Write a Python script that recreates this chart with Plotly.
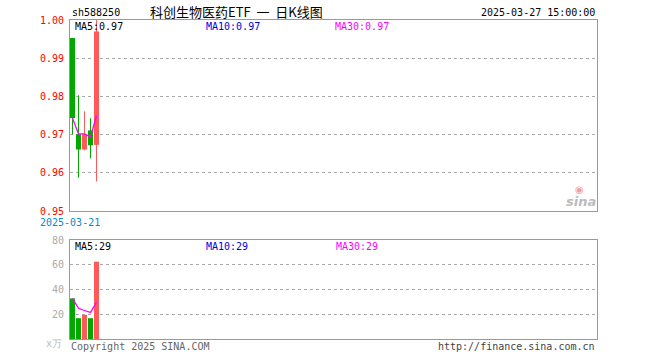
import plotly.graph_objects as go
import pandas as pd

# ---- data ----
dates = ["2025-03-21", "2025-03-24", "2025-03-25", "2025-03-26", "2025-03-27"]
open_ = [0.9953, 0.9701, 0.9661, 0.9711, 0.9673]
high = [0.9953, 0.9803, 0.9761, 0.9743, 1.0000]
low = [0.9701, 0.9588, 0.9659, 0.9638, 0.9577]
close = [0.9743, 0.9661, 0.9701, 0.9672, 0.9970]
volume = [32.8, 16.8, 19.5, 16.8, 62.5]  # 万

price_ticks = [0.95, 0.96, 0.97, 0.98, 0.99, 1.00]
vol_ticks = [20, 40, 60, 80]

W, H = 660, 360
X0, X1 = 70, 597
UNIT = 6.0

RED = "#ff5a5a"
GREEN = "#00a800"
MAG = "#ff00ff"
MONO = "DejaVu Sans Mono"

x = list(range(len(dates)))
colors = [RED if c >= o else GREEN for o, c in zip(open_, close)]
body_base = [min(o, c) for o, c in zip(open_, close)]
body_h = [abs(c - o) for o, c in zip(open_, close)]
wick_h = [h - l for h, l in zip(high, low)]
ma_price = pd.Series(close).expanding().mean()
ma_vol = pd.Series(volume).expanding().mean()

fig = go.Figure()
# wicks
fig.add_trace(go.Bar(x=x, y=wick_h, base=low, width=1 / UNIT, marker_color=colors,
                     marker_line_width=0, xaxis="x", yaxis="y", showlegend=False))
# bodies
fig.add_trace(go.Bar(x=x, y=body_h, base=body_base, width=5 / UNIT, marker_color=colors,
                     marker_line_width=0, xaxis="x", yaxis="y", showlegend=False))
fig.add_trace(go.Scatter(x=x, y=ma_price, mode="lines", line=dict(color=MAG, width=1.3),
                         xaxis="x", yaxis="y", showlegend=False))
# volume
fig.add_trace(go.Bar(x=x, y=volume, width=5 / UNIT, marker_color=colors,
                     marker_line_width=0, xaxis="x2", yaxis="y2", showlegend=False))
fig.add_trace(go.Scatter(x=x, y=ma_vol, mode="lines", line=dict(color=MAG, width=1.3),
                         xaxis="x2", yaxis="y2", showlegend=False))

xr = [-2.5 / UNIT, (X1 - X0 - 2.5) / UNIT]
xd = [X0 / W, X1 / W]


def py(px):
    return (H - px) / H


axis_common = dict(showline=True, linecolor="#999999", linewidth=1, mirror=True,
                   zeroline=False, automargin=False)
fig.update_layout(
    width=W, height=H, margin=dict(l=0, r=0, t=0, b=0, autoexpand=False),
    paper_bgcolor="white", plot_bgcolor="white", barmode="overlay",
    xaxis=dict(domain=xd, range=xr, showticklabels=False, showgrid=False,
               anchor="y", **axis_common),
    yaxis=dict(domain=[py(211), py(20)], range=[0.95, 1.00], tickvals=price_ticks,
               tickformat=".2f", ticks="", ticklabelstandoff=3,
               tickfont=dict(family=MONO, size=10, color="#ff0000"),
               showgrid=True, gridcolor="#aaaaaa", griddash="dot", gridwidth=1,
               anchor="x", **axis_common),
    xaxis2=dict(domain=xd, range=xr, showticklabels=False, showgrid=False,
                anchor="y2", **axis_common),
    yaxis2=dict(domain=[py(339), py(240)], range=[0, 80], tickvals=vol_ticks,
                ticks="", ticklabelstandoff=3,
                tickfont=dict(family=MONO, size=10, color="#aaaaaa"),
                showgrid=True, gridcolor="#aaaaaa", griddash="dot", gridwidth=1,
                anchor="x2", **axis_common),
)


def ann(text, xpx, ypx, color="#000000", size=10, family=MONO, xanchor="left", **kw):
    fig.add_annotation(text=text, x=xpx / W, y=py(ypx), xref="paper", yref="paper",
                       xanchor=xanchor, yanchor="middle", showarrow=False,
                       font=dict(family=family, size=size, color=color), **kw)


ma_p = f"{ma_price.iloc[-1]:.2f}"
ma_v = f"{int(ma_vol.iloc[-1])}"
ann("sh588250", 70, 13)
ann("科创生物医药ETF&nbsp;&nbsp;一&nbsp;&nbsp;日K线图", 236, 12, size=13,
    family="Noto Sans CJK SC", xanchor="center")
ann("2025-03-27 15:00:00", 597, 13, xanchor="right")
ann(f"MA5:{ma_p}", 73, 27)
ann(f"MA10:{ma_p}", 204, 27, color="#0000dd")
ann(f"MA30:{ma_p}", 333, 27, color="#ff00ff")
ann(dates[0], 70, 222, color="#0a88d0", xanchor="center")
ann(f"MA5:{ma_v}", 73, 246)
ann(f"MA10:{ma_v}", 204, 246, color="#0000dd")
ann(f"MA30:{ma_v}", 334, 246, color="#ff00ff")
ann("x万", 64, 343, color="#bbbbbb", xanchor="right")
ann("Copyright 2025 SINA.COM", 69, 346, color="#666666")
ann("http://finance.sina.com.cn", 597, 346, color="#444444", xanchor="right")
ann("<b><i>sina</i></b>", 598, 201, color="#bbbbbb", size=13, family="DejaVu Sans", xanchor="right")
ann("◉", 579, 189, color="#f4a0a0", size=10, family="DejaVu Sans", xanchor="center")

fig.write_html("out.html", config={"displayModeBar": False},
               post_script="document.body.style.margin='0';document.body.style.padding='0';")
